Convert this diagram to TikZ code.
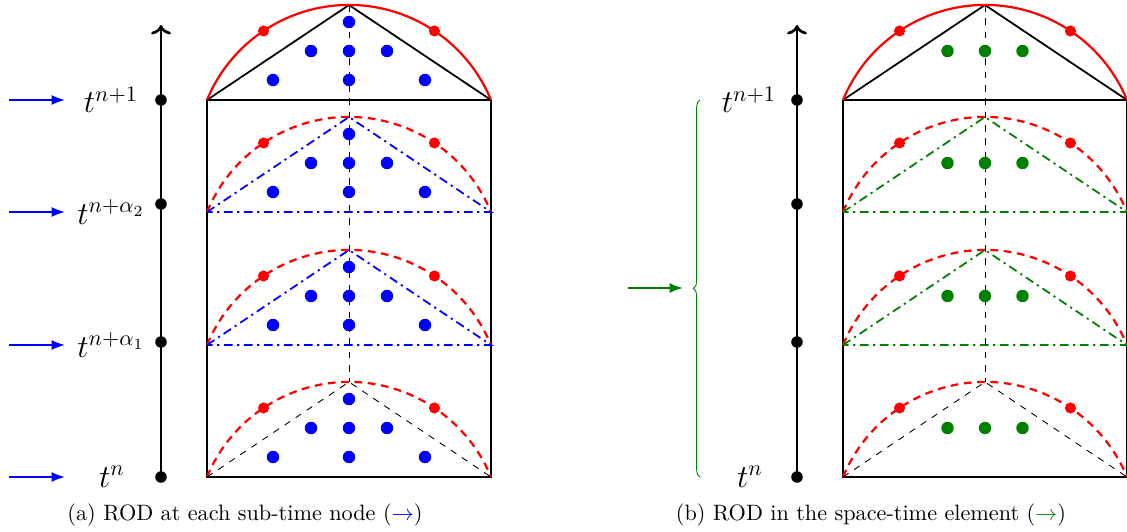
\documentclass[tikz,border=0pt]{standalone}
\usepackage{amsmath,amssymb,bm}
\usetikzlibrary{decorations.pathreplacing,arrows.meta}

\definecolor{dkgreen}{rgb}{0,0.5,0}

\begin{document}
\begin{tikzpicture}[x=0.45pt,y=0.45pt,line width=0.8pt,
  tdot/.style={fill=black},
  rdot/.style={fill=red},
  bdot/.style={fill=blue},
  gdot/.style={fill=dkgreen},
  rarc/.style={red,line width=1pt,dash pattern=on 3.5pt off 2.5pt},
  dd/.style={thick,dash pattern=on 4pt off 2pt on 1pt off 2pt},
  tarrow/.style={thick,-{Latex[length=6pt,width=4.5pt]}},
  tlabel/.style={font=\Large}]
  \useasboundingbox (0,0) rectangle (1127,531);

  % left: ROD at each sub-time node
  \coordinate (abot) at (161,54);
  \coordinate (atop) at (161,506);
  \draw[very thick,->] (abot) -- (atop);
  \foreach \y in {54,189,327,431} {
    \fill[tdot] (161,\y) circle (2.6pt);
  }
  \draw[thick] (207,54) rectangle (491,431);
  \draw[thick] (207,431) -- (349,526) -- (491,431);
  \draw[red,line width=1pt] (207,431) arc[start angle=157.6,end angle=22.4,radius=153.6];
  \foreach \b in {54,186,319} {
    \draw[rarc] (207,\b) arc[start angle=157.6,end angle=22.4,radius=153.6];
  }
  \foreach \b in {186,319} {
    \draw[blue,dd] (207,\b) -- (349,\b+95) -- (491,\b) -- cycle;
  }
  \draw[dashed,thin] (207,54) -- (349,149) -- (491,54);
  \draw[dashed,thin] (349,526) -- (349,149);
  \foreach \b in {54,186,319,431} {
    \fill[rdot] (349,\b-58.6) ++(123.8:153.6) circle (2.5pt);
    \fill[rdot] (349,\b-58.6) ++(56.2:153.6) circle (2.5pt);
    \foreach \dx/\dy in {0/78,-38/49,0/49,38/49,-76/20,0/20,76/20} {
      \fill[bdot] (349+\dx,\b+\dy) circle (2.8pt);
    }
  }
  \node[tlabel] (ta3) at (111,431) {$t^{n+1}$};
  \node[tlabel] (ta2) at (111,319) {$t^{n+\alpha_2}$};
  \node[tlabel] (ta1) at (111,186) {$t^{n+\alpha_1}$};
  \node[tlabel] (ta0) at (112,54) {$t^{n}$};
  \foreach \y/\k in {431/3,319/2,186/1,54/0} {
    \coordinate (s\k) at (9,\y);
    \coordinate (e\k) at (65,\y);
    \draw[blue,tarrow] (s\k) -- (e\k);
  }
  \node (capa) at (245,16) {(a) ROD at each sub-time node ({\color{blue}$\rightarrow$})};

  % right: ROD in the space-time element
  \coordinate (bbot) at (797,54);
  \coordinate (btop) at (797,506);
  \draw[very thick,->] (bbot) -- (btop);
  \foreach \y in {54,189,327,431} {
    \fill[tdot] (797,\y) circle (2.6pt);
  }
  \draw[thick] (843,54) rectangle (1127,431);
  \draw[thick] (843,431) -- (985,526) -- (1127,431);
  \draw[red,line width=1pt] (843,431) arc[start angle=157.6,end angle=22.4,radius=153.6];
  \foreach \b in {54,186,319} {
    \draw[rarc] (843,\b) arc[start angle=157.6,end angle=22.4,radius=153.6];
  }
  \foreach \b in {186,319} {
    \draw[dkgreen,dd] (843,\b) -- (985,\b+95) -- (1127,\b) -- cycle;
  }
  \draw[dashed,thin] (843,54) -- (985,149) -- (1127,54);
  \draw[dashed,thin] (985,526) -- (985,149);
  \foreach \b in {54,186,319,431} {
    \fill[rdot] (985,\b-58.6) ++(123.8:153.6) circle (2.5pt);
    \fill[rdot] (985,\b-58.6) ++(56.2:153.6) circle (2.5pt);
    \foreach \dx in {-37.5,0,37.5} {
      \fill[gdot] (985+\dx,\b+49) circle (2.8pt);
    }
  }
  \node[tlabel] (tb1) at (749,431) {$t^{n+1}$};
  \node[tlabel] (tb0) at (750,54) {$t^{n}$};
  \coordinate (bra) at (700,54);
  \coordinate (brb) at (700,431);
  \draw[dkgreen,thin,decorate,decoration={brace,amplitude=3pt}] (bra) -- (brb);
  \coordinate (gs) at (628,243);
  \coordinate (ge) at (683,243);
  \draw[dkgreen,tarrow] (gs) -- (ge);
  \node (capb) at (871,16) {(b) ROD in the space-time element ({\color{dkgreen}$\rightarrow$})};
\end{tikzpicture}
\end{document}
